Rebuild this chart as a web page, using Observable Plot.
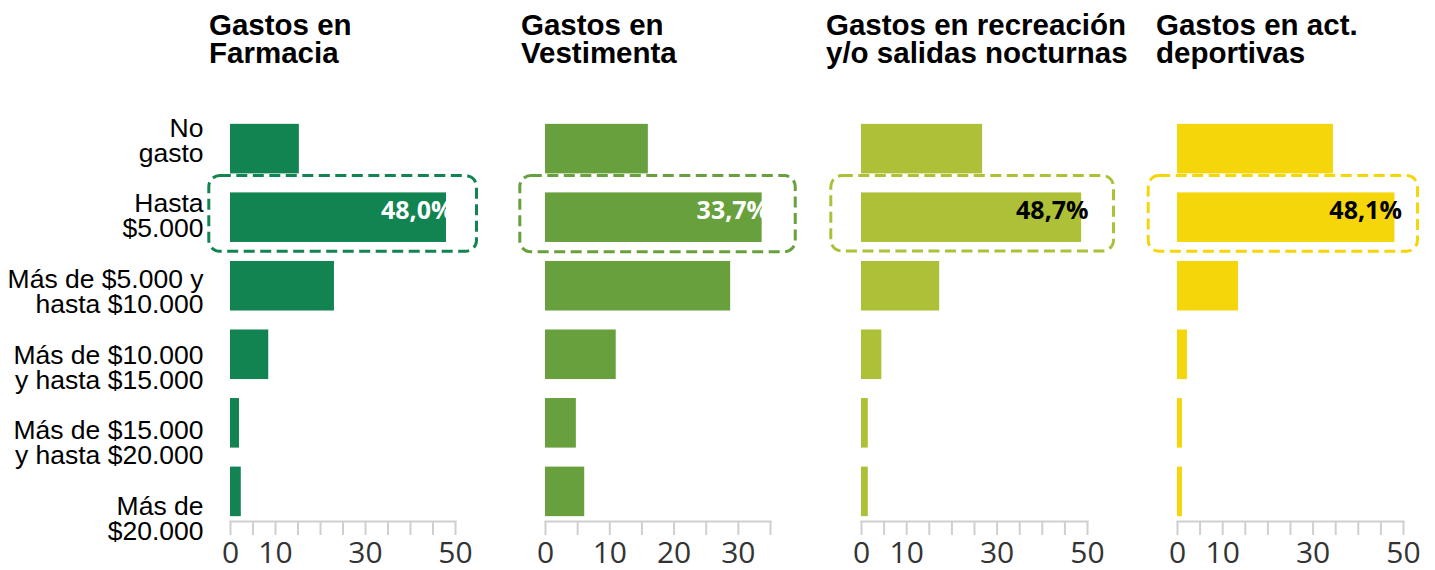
<!DOCTYPE html>
<html>
<head>
<meta charset="utf-8">
<script src="https://cdn.jsdelivr.net/npm/d3@7"></script>
<script src="https://cdn.jsdelivr.net/npm/@observablehq/plot@0.6"></script>
<style>
html, body { margin: 0; padding: 0; background: #fff; }
#chart { position: relative; width: 1435px; height: 570px; overflow: hidden; background: #fff; }
.title { position: absolute; top: 11px; font-family: "Liberation Sans", Arial, sans-serif; font-weight: bold;
  font-size: 29.5px; line-height: 27.6px; color: #000; white-space: pre; }
.panel { position: absolute; top: 100px; }
</style>
</head>
<body>
<div id="chart"></div>
<script>
// ---- data ----
const categories = ["No gasto", "Hasta $5.000", "Más de $5.000 y hasta $10.000",
  "Más de $10.000 y hasta $15.000", "Más de $15.000 y hasta $20.000", "Más de $20.000"];
const categoryLabels = ["No\ngasto", "Hasta\n$5.000", "Más de $5.000 y\nhasta $10.000",
  "Más de $10.000\ny hasta $15.000", "Más de $15.000\ny hasta $20.000", "Más de\n$20.000"];
const titles = ["Gastos en\nFarmacia", "Gastos en\nVestimenta",
  "Gastos en recreación\ny/o salidas nocturnas", "Gastos en act.\ndeportivas"];
const farmacia   = [15.3, 48.0, 23.1, 8.5, 2.0, 2.4];
const vestimenta = [16.0, 33.7, 28.8, 11.0, 4.8, 6.1];
const recreacion = [26.8, 48.7, 17.3, 4.5, 1.5, 1.5];
const deportivas = [34.5, 48.1, 13.5, 2.2, 1.1, 1.1];
const seriesValues = [farmacia, vestimenta, recreacion, deportivas];
const valueLabels = ["48,0%", "33,7%", "48,7%", "48,1%"];
const highlightCategory = "Hasta $5.000";
const xMaxima = [50, 35, 50, 50];
const tickStep = 5;
const tickLabels = [[0, 10, 30, 50], [0, 10, 20, 30], [0, 10, 30, 50], [0, 10, 30, 50]];

// ---- styles / layout ----
const colors = ["#118452", "#67a03d", "#aec038", "#f5d60a"];
const labelColors = ["#ffffff", "#ffffff", "#000000", "#000000"];
const titleLefts = [209, 521, 826, 1156];
const panelLefts = [190, 505, 821, 1137];
const rangeWidths = [225, 225, 226, 226];
const marginRights = [40, 40, 40, 32];
const boxInsets = [  // left, right, top, bottom (negative = grow)
  [-21.2, -30.5, -16.8, -9.3],
  [-25.2, -33.6, -16.8, -9.8],
  [-30.2, -32.4, -16.8, -9.0],
  [-28.8, -23.1, -16.8, -9.3]
];

const chart = document.getElementById("chart");
const transparent = {background: "transparent", overflow: "visible"};

// category labels (left)
const labelPlot = Plot.plot({
  width: 230, height: 470, marginTop: 0, marginBottom: 0, marginLeft: 0, marginRight: 27,
  style: transparent,
  y: {type: "band", domain: categories, range: [11.2, 465.2], padding: 0, axis: null, round: false},
  marks: [
    Plot.text(categories, {
      y: d => d, text: (d, i) => categoryLabels[i], frameAnchor: "right", textAnchor: "end",
      fontSize: 26.5, lineHeight: 25 / 26.5, dy: -8.5, fill: "#000",
      fontFamily: "'Liberation Sans', Arial, sans-serif"
    })
  ]
});
labelPlot.classList.add("panel");
labelPlot.style.left = "0px";
chart.appendChild(labelPlot);

titles.forEach((t, k) => {
  const div = document.createElement("div");
  div.className = "title";
  div.style.left = titleLefts[k] + "px";
  div.textContent = t;
  chart.appendChild(div);
});

seriesValues.forEach((vals, k) => {
  const data = categories.map((c, i) => ({category: c, value: vals[i]}));
  const hi = data.filter(d => d.category === highlightCategory);
  const ml = 40;
  const width = ml + rangeWidths[k] + marginRights[k];
  const [il, ir, it, ib] = boxInsets[k];
  const p = Plot.plot({
    width, height: 470, marginTop: 19, marginBottom: 49, marginLeft: ml, marginRight: marginRights[k],
    style: transparent,
    x: {domain: [0, xMaxima[k]], label: null, round: false},
    y: {type: "band", domain: categories, paddingInner: 0.277, paddingOuter: 0.0707, axis: null, round: false},
    marks: [
      Plot.barX(data, {x: "value", y: "category", fill: colors[k]}),
      Plot.barX(hi, {
        x: "value", y: "category", fill: "none", stroke: colors[k], strokeWidth: 3,
        strokeDasharray: "11,5.5", rx: 11,
        insetLeft: il, insetRight: ir, insetTop: it, insetBottom: ib
      }),
      Plot.text(hi, {
        x: "value", y: "category", text: () => valueLabels[k], textAnchor: "end",
        dx: 7, dy: -7, fill: labelColors[k], fontSize: 25, fontWeight: "bold",
        fontFamily: "'Open Sans', sans-serif"
      }),
      Plot.frame({anchor: "bottom", stroke: "#cfcfcf", strokeWidth: 2}),
      Plot.axisX({
        ticks: d3.range(0, xMaxima[k] + 0.001, tickStep),
        tickFormat: d => tickLabels[k].includes(d) ? String(d) : "",
        tickSize: 14, tickPadding: 6, stroke: "#cfcfcf", strokeWidth: 2,
        fill: "#333", fontSize: 30, fontFamily: "'Open Sans', sans-serif", label: null
      })
    ]
  });
  p.classList.add("panel");
  p.style.left = panelLefts[k] + "px";
  chart.appendChild(p);
});
</script>
</body>
</html>
